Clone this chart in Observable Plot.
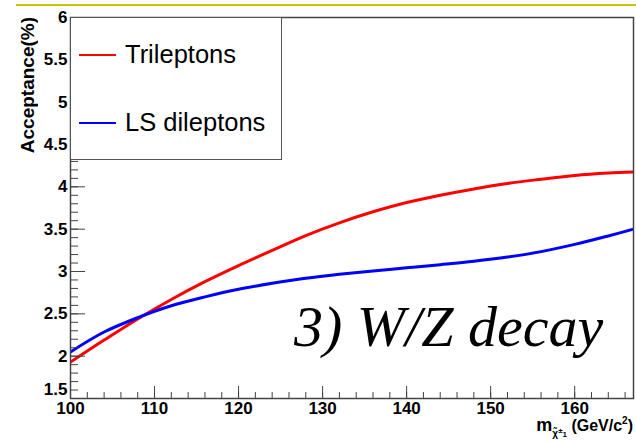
<!DOCTYPE html>
<html>
<head>
<meta charset="utf-8">
<script src="https://cdn.jsdelivr.net/npm/d3@7"></script>
<script src="https://cdn.jsdelivr.net/npm/@observablehq/plot@0.6"></script>
<style>
  html, body { margin: 0; padding: 0; background: #fff; }
  #wrap { position: relative; width: 636px; height: 443px; overflow: hidden; font-family: "Liberation Sans", Arial, sans-serif; }
  #topline { position: absolute; left: 16px; top: 4px; width: 620px; height: 2px; background: #c8c200; }
  #legend { position: absolute; left: 70px; top: 17px; width: 212px; height: 143px; background: #fff; border: 1px solid #555; box-sizing: border-box; }
  .entry { position: absolute; left: 0; display: flex; align-items: center; font-size: 25.5px; color: #000; white-space: nowrap; }
  .swatch { display: inline-block; width: 37px; height: 2px; margin-left: 8px; margin-right: 9px; }
  #note { position: absolute; left: 294px; top: 298px; font-family: "Liberation Serif", serif; font-style: italic; font-size: 58px; color: #000; white-space: nowrap; line-height: 1; }
  #xlabel { position: absolute; right: 3px; top: 416px; font-size: 16px; font-weight: bold; white-space: nowrap; line-height: 1; }
  #xlabel .m { font-size: 18px; }
  #xlabel sub { font-size: 10px; vertical-align: -6px; }
  #xlabel sup { font-size: 10px; vertical-align: 7px; }
  #ylabel { position: absolute; left: 18px; top: 17px; writing-mode: vertical-rl; transform: rotate(180deg); font-size: 19px; font-weight: bold; white-space: nowrap; line-height: 1; }
</style>
</head>
<body>
<div id="wrap"></div>
<script>
// ---- data ----
const mass        = [100, 104, 108, 112, 116, 120, 124, 128, 132, 136, 140, 144, 148, 152, 156, 160, 164, 167];
const trileptons  = [1.93, 2.19, 2.44, 2.67, 2.88, 3.07, 3.25, 3.425, 3.575, 3.705, 3.815, 3.90, 3.975, 4.04, 4.09, 4.135, 4.163, 4.175];
const lsDileptons = [2.05, 2.285, 2.455, 2.595, 2.70, 2.79, 2.86, 2.92, 2.967, 3.007, 3.043, 3.08, 3.12, 3.17, 3.235, 3.32, 3.42, 3.50];
const seriesNames = ["Trileptons", "LS dileptons"];
const seriesColors = ["#ff0000", "#0000ff"];
const xMajorTicks = [100, 110, 120, 130, 140, 150, 160];
const yMajorTicks = [1.5, 2, 2.5, 3, 3.5, 4, 4.5, 5, 5.5, 6];
const yTickLabels = ["1.5", "2", "2.5", "3", "3.5", "4", "4.5", "5", "5.5", "6"];
const xMinorTicks = d3.range(100, 167, 2);
const yMinorTicks = d3.range(15, 61).map(d => d / 10);
const noteText = "3) W/Z decay";
const yTitle = "Acceptance(%)";

const rows = [];
mass.forEach((m, i) => {
  rows.push({m, v: trileptons[i], s: seriesNames[0]});
  rows.push({m, v: lsDileptons[i], s: seriesNames[1]});
});

const axisColor = "#444";
const chart = Plot.plot({
  width: 636,
  height: 443,
  marginLeft: 70,
  marginRight: 3,
  marginTop: 17,
  marginBottom: 45,
  style: {fontFamily: "Liberation Sans, Arial, sans-serif", fontSize: "17px", fontWeight: "bold", background: "transparent", color: "#000"},
  x: {domain: [100, 167]},
  y: {domain: [1.5, 6]},
  color: {domain: seriesNames, range: seriesColors},
  marks: [
    Plot.line(rows, {x: "m", y: "v", z: "s", stroke: "s", strokeWidth: 3, curve: "catmull-rom", clip: true}),
    Plot.axisX({ticks: xMinorTicks, tickSize: -6, fill: "none", stroke: axisColor, label: null}),
    Plot.axisX({ticks: xMajorTicks, tickSize: -12, fill: "none", stroke: axisColor, label: null}),
    Plot.axisX({ticks: xMajorTicks, tickSize: 0, tickPadding: 3, tickFormat: d => String(d), label: null}),
    Plot.axisY({ticks: yMinorTicks, tickSize: -8, fill: "none", stroke: axisColor, label: null}),
    Plot.axisY({ticks: yMajorTicks, tickSize: -15, fill: "none", stroke: axisColor, label: null}),
    Plot.axisY({ticks: yMajorTicks.slice(1), tickSize: 0, tickPadding: 3, tickFormat: d => yTickLabels[yMajorTicks.indexOf(d)], label: null}),
    Plot.axisY({ticks: yMajorTicks.slice(0, 1), tickSize: 0, tickPadding: 3, dy: -9, tickFormat: d => yTickLabels[yMajorTicks.indexOf(d)], label: null}),
    Plot.frame({stroke: axisColor, strokeWidth: 1.5})
  ]
});

const wrap = document.getElementById("wrap");
wrap.appendChild(chart);

const topLine = document.createElement("div");
topLine.id = "topline";
wrap.appendChild(topLine);

const legend = document.createElement("div");
legend.id = "legend";
const entryTops = [22, 90];
seriesNames.forEach((name, i) => {
  const e = document.createElement("div");
  e.className = "entry";
  e.style.top = entryTops[i] + "px";
  const sw = document.createElement("span");
  sw.className = "swatch";
  sw.style.background = seriesColors[i];
  const t = document.createElement("span");
  t.textContent = name;
  e.appendChild(sw);
  e.appendChild(t);
  legend.appendChild(e);
});
wrap.appendChild(legend);

const note = document.createElement("div");
note.id = "note";
note.textContent = noteText;
wrap.appendChild(note);

const xl = document.createElement("div");
xl.id = "xlabel";
xl.innerHTML = "<span class='m'>m</span><sub>\u03C7\u0303<sup style='font-size:8px;vertical-align:4px'>\u00B1</sup><span style='font-size:8px'>1</span></sub> (GeV/c<sup>2</sup>)";
wrap.appendChild(xl);

const yl = document.createElement("div");
yl.id = "ylabel";
yl.textContent = yTitle;
wrap.appendChild(yl);
</script>
</body>
</html>
